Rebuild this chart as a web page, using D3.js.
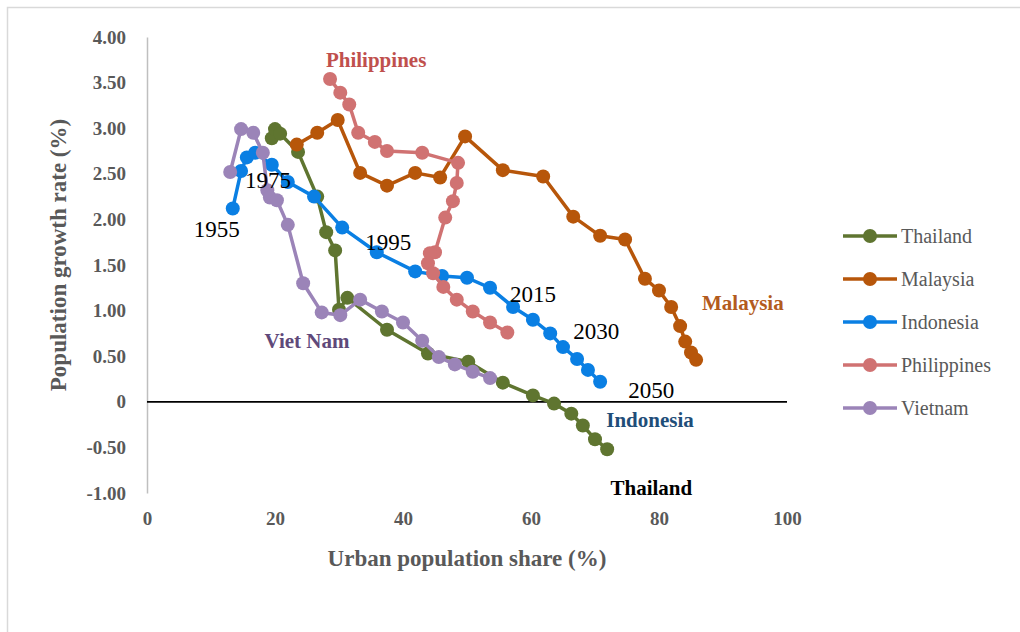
<!DOCTYPE html>
<html>
<head>
<meta charset="utf-8">
<script src="https://cdn.jsdelivr.net/npm/d3@7"></script>
<style>
  body{margin:0;background:#fff;}
  svg text{font-family:"Liberation Serif","DejaVu Serif",serif !important;}
</style>
</head>
<body>
<div class="canvas"></div>
<script>
// data: urban share (%) and growth rate (%), 1955..2050 every 5 yrs
const countries=['Thailand','Malaysia','Indonesia','Philippines','Vietnam'];
const colors=['#5f7530','#b7560a','#0a7fe3','#d07272','#9b84b8'];

const thailandX=[19.5,20.0,20.8,23.6,26.6,28.0,29.4,30.0,31.3,37.5,43.9,50.2,55.6,60.3,63.6,66.3,68.1,70.0,71.9];
const thailandY=[2.89,2.99,2.94,2.74,2.25,1.86,1.66,1.01,1.14,0.79,0.53,0.44,0.21,0.07,-0.02,-0.13,-0.26,-0.41,-0.52];

const malaysiaX=[23.4,26.6,29.8,33.3,37.5,41.9,45.8,49.7,55.6,61.9,66.6,70.8,74.7,77.8,80.0,81.9,83.3,84.1,85.0,85.8];
const malaysiaY=[2.82,2.95,3.09,2.51,2.37,2.51,2.46,2.91,2.54,2.47,2.03,1.82,1.78,1.35,1.22,1.04,0.83,0.66,0.54,0.46];

const indonesiaX=[13.4,14.7,15.6,16.9,19.5,22.0,26.1,30.5,35.9,41.9,46.1,50.0,53.6,57.2,60.3,63.0,65.0,67.2,68.9,70.8];
const indonesiaY=[2.12,2.53,2.68,2.73,2.60,2.41,2.25,1.91,1.64,1.43,1.38,1.36,1.25,1.04,0.90,0.75,0.60,0.47,0.35,0.22];

const philippinesX=[28.6,30.2,31.6,33.0,35.6,37.5,43.0,48.6,48.4,47.8,46.6,45.0,44.2,43.9,44.7,46.3,48.4,50.9,53.6,56.3];
const philippinesY=[3.54,3.39,3.26,2.95,2.85,2.75,2.73,2.62,2.40,2.20,2.02,1.64,1.63,1.52,1.41,1.26,1.12,0.99,0.87,0.76];

const vietnamX=[13.0,14.7,16.6,18.1,18.8,19.2,20.3,22.0,24.4,27.3,30.2,33.3,36.7,40.0,43.0,45.6,48.1,50.9,53.6];
const vietnamY=[2.52,2.99,2.95,2.73,2.32,2.24,2.21,1.94,1.30,0.98,0.95,1.12,0.99,0.87,0.67,0.49,0.41,0.33,0.26];

const xTicks=[0,20,40,60,80,100];
const yTicks=[4,3.5,3,2.5,2,1.5,1,0.5,0,-0.5,-1];
const yTickLabels=['4.00','3.50','3.00','2.50','2.00','1.50','1.00','0.50','0','-0.50','-1.00'];

// year labels along the Indonesia path (x,y in data units)
const yearLabels=['1955','1975','1995','2015','2030','2050'];
const yearX=[10.9,18.9,37.7,60.3,70.2,78.8];
const yearY=[1.81,2.34,1.66,1.09,0.69,0.04];

// country names written in the plot
const nameLabels=['Philippines','Malaysia','Indonesia','Thailand','Viet Nam'];
const nameX=[35.8,93.1,78.6,78.8,25.0];
const nameY=[3.67,1.01,-0.28,-1.02,0.59];
const nameColors=['#c0504d','#b35b1e','#1f4e79','#000000','#5f497a'];

const seriesX=[thailandX,malaysiaX,indonesiaX,philippinesX,vietnamX];
const seriesY=[thailandY,malaysiaY,indonesiaY,philippinesY,vietnamY];

const W=1020,H=632;
const margin={top:37,left:147};
const graphWidth=640, graphHeight=456;
const FONT='"Liberation Serif","DejaVu Serif",serif';

const svg=d3.select('.canvas').append('svg')
    .attr('width',W).attr('height',H)
    .attr('font-family',FONT);

//outer frame
svg.append('rect')
    .attr('x',7.5).attr('y',7.5)
    .attr('width',W+10).attr('height',H+10)
    .attr('fill','none').attr('stroke','#d9d9d9').attr('stroke-width',1.5);

const graph=svg.append('g')
    .attr('transform',`translate(${margin.left},${margin.top})`);

const x=d3.scaleLinear().domain([0,100]).range([0,graphWidth]);
const y=d3.scaleLinear().domain([-1,4]).range([graphHeight,0]);

//axes
const xAxis=d3.axisBottom(x).tickValues(xTicks).tickSize(0).tickPadding(19);
const yAxis=d3.axisLeft(y).tickValues(yTicks).tickSize(0).tickPadding(21)
    .tickFormat((d,i)=>yTickLabels[i]);

const xAxisGroup=graph.append('g')
    .attr('transform',`translate(0,${graphHeight})`).call(xAxis)
    .attr('font-family',FONT);
xAxisGroup.select('.domain').remove();
xAxisGroup.selectAll('text')
    .attr('fill','#595959').attr('font-size',19).attr('font-weight','bold');

const yAxisGroup=graph.append('g').call(yAxis)
    .attr('font-family',FONT);
yAxisGroup.select('.domain').attr('stroke','#bfbfbf').attr('stroke-width',1.5);
yAxisGroup.selectAll('text')
    .attr('fill','#595959').attr('font-size',19).attr('font-weight','bold');

//zero line
graph.append('line')
    .attr('x1',0).attr('x2',graphWidth)
    .attr('y1',y(0)).attr('y2',y(0))
    .attr('stroke','#000').attr('stroke-width',1.8);

//axis titles
svg.append('text')
    .attr('x',margin.left+graphWidth/2).attr('y',566)
    .attr('text-anchor','middle')
    .attr('font-size',23).attr('font-weight','bold').attr('fill','#595959')
    .text('Urban population share (%)');

svg.append('text')
    .attr('transform',`translate(66,${margin.top+graphHeight/2-10}) rotate(-90)`)
    .attr('text-anchor','middle')
    .attr('font-size',23).attr('font-weight','bold').attr('fill','#595959')
    .text('Population growth rate (%)');

//lines + markers
const line=d3.line().x(d=>x(d[0])).y(d=>y(d[1]));

countries.forEach((c,i)=>{
  const pts=seriesX[i].map((v,j)=>[v,seriesY[i][j]]);
  const g=graph.append('g');
  g.append('path')
    .datum(pts)
    .attr('d',line)
    .attr('fill','none')
    .attr('stroke',colors[i])
    .attr('stroke-width',3.5)
    .attr('stroke-linejoin','round');
  g.selectAll('circle')
    .data(pts)
    .enter().append('circle')
    .attr('cx',d=>x(d[0]))
    .attr('cy',d=>y(d[1]))
    .attr('r',7)
    .attr('fill',colors[i]);
});

//year labels
graph.selectAll('.year')
  .data(yearLabels)
  .enter().append('text')
  .attr('class','year')
  .attr('x',(d,i)=>x(yearX[i]))
  .attr('y',(d,i)=>y(yearY[i]))
  .attr('text-anchor','middle')
  .attr('font-size',23)
  .attr('fill','#000')
  .text(d=>d);

//country names
graph.selectAll('.cname')
  .data(nameLabels)
  .enter().append('text')
  .attr('class','cname')
  .attr('x',(d,i)=>x(nameX[i]))
  .attr('y',(d,i)=>y(nameY[i]))
  .attr('text-anchor','middle')
  .attr('font-size',21)
  .attr('font-weight','bold')
  .attr('fill',(d,i)=>nameColors[i])
  .text(d=>d);

//legend
const legend=svg.append('g').attr('transform','translate(843,236)');
const rows=legend.selectAll('g')
  .data(countries)
  .enter().append('g')
  .attr('transform',(d,i)=>`translate(0,${i*43})`);
rows.append('line')
  .attr('x1',0).attr('x2',54).attr('y1',0).attr('y2',0)
  .attr('stroke',(d,i)=>colors[i]).attr('stroke-width',3.5);
rows.append('circle')
  .attr('cx',27).attr('cy',0).attr('r',7)
  .attr('fill',(d,i)=>colors[i]);
rows.append('text')
  .attr('x',58).attr('y',7)
  .attr('font-size',20)
  .attr('fill','#595959')
  .text(d=>d);
</script>
</body>
</html>
